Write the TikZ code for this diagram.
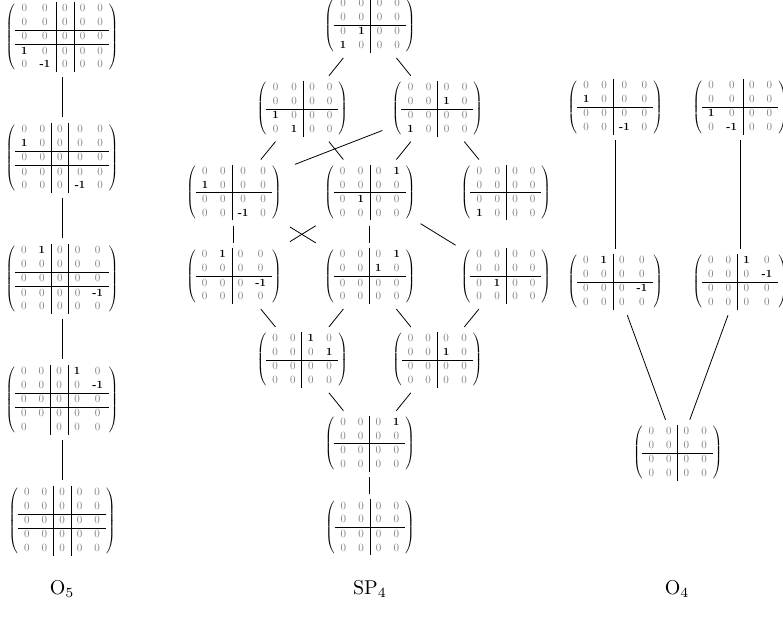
\documentclass[tikz,border=0pt]{standalone}
\usepackage{color}
\usepackage{graphicx}
\usepackage{tikz}
\usetikzlibrary{positioning}

\setlength{\arraycolsep}{5.5pt}
\renewcommand{\arraystretch}{1.05}
\newcommand{\zz}{\textcolor{gray}{0}}
\newcommand{\pone}{\mathbf{1}}
\newcommand{\mone}{\textbf{-1}}
\newcommand{\zrow}{\zz&\zz&\zz&\zz}
\newcommand{\zrowV}{\zz&\zz&\zz&\zz&\zz}
\newcommand{\matF}[4]{\scalebox{0.55}{$\left(\begin{array}{cc|cc}#1\\#2\\\hline#3\\#4\end{array}\right)$}}
\newcommand{\matV}[5]{\scalebox{0.55}{$\left(\begin{array}{cc|c|cc}#1\\#2\\\hline#3\\\hline#4\\#5\end{array}\right)$}}

\begin{document}
\begin{tikzpicture}[
                    on grid,
                    node distance=1.471cm,
                    mat/.style={
                        inner sep=1.5pt
                    },
                    lbl/.style={
                        font=\normalsize
                    },
                    link/.style={
                        shorten >=1pt,
                        shorten <=1pt
                    },
                    cross/.style={
                        shorten >=3pt,
                        shorten <=3pt
                    }
                ]
                    \useasboundingbox (0,0) rectangle (13.76,-10.843);

                    % O5
                    \node[mat] (o5a) at (1.09,-0.65) {\matV{\zrowV}{\zrowV}{\zrowV}{\pone&\zz&\zz&\zz&\zz}{\zz&\mone&\zz&\zz&\zz}};
                    \node[mat] (o5b) [below=2.126cm of o5a] {\matV{\zrowV}{\pone&\zz&\zz&\zz&\zz}{\zrowV}{\zrowV}{\zz&\zz&\zz&\mone&\zz}};
                    \node[mat] (o5c) [below=2.126cm of o5b] {\matV{\zz&\pone&\zz&\zz&\zz}{\zrowV}{\zrowV}{\zz&\zz&\zz&\zz&\mone}{\zrowV}};
                    \node[mat] (o5d) [below=2.126cm of o5c] {\matV{\zz&\zz&\zz&\pone&\zz}{\zz&\zz&\zz&\zz&\mone}{\zrowV}{\zrowV}{\zz&&\zz&\zz&\zz}};
                    \node[mat] (o5e) [below=2.126cm of o5d] {\matV{\zrowV}{\zrowV}{\zrowV}{\zrowV}{\zrowV}};

                    % SP4
                    \node[mat] (s0) at (6.50,-0.44) {\matF{\zrow}{\zrow}{\zz&\pone&\zz&\zz}{\pone&\zz&\zz&\zz}};
                    \node[mat] (s1a) [below left=1.471cm and 1.186cm of s0] {\matF{\zrow}{\zrow}{\pone&\zz&\zz&\zz}{\zz&\pone&\zz&\zz}};
                    \node[mat] (s1b) [below right=1.471cm and 1.186cm of s0] {\matF{\zrow}{\zz&\zz&\pone&\zz}{\zrow}{\pone&\zz&\zz&\zz}};
                    \node[mat] (s2b) [below=2.942cm of s0] {\matF{\zz&\zz&\zz&\pone}{\zrow}{\zz&\pone&\zz&\zz}{\zrow}};
                    \node[mat] (s2a) [left=2.39cm of s2b] {\matF{\zrow}{\pone&\zz&\zz&\zz}{\zrow}{\zz&\zz&\mone&\zz}};
                    \node[mat] (s2c) [right=2.39cm of s2b] {\matF{\zrow}{\zrow}{\zrow}{\pone&\zz&\zz&\zz}};
                    \node[mat] (s3a) [below of=s2a] {\matF{\zz&\pone&\zz&\zz}{\zrow}{\zz&\zz&\zz&\mone}{\zrow}};
                    \node[mat] (s3b) [below of=s2b] {\matF{\zz&\zz&\zz&\pone}{\zz&\zz&\pone&\zz}{\zrow}{\zrow}};
                    \node[mat] (s3c) [below of=s2c] {\matF{\zrow}{\zrow}{\zz&\pone&\zz&\zz}{\zrow}};
                    \node[mat] (s4a) [below left=1.471cm and 1.186cm of s3b] {\matF{\zz&\zz&\pone&\zz}{\zz&\zz&\zz&\pone}{\zrow}{\zrow}};
                    \node[mat] (s4b) [below right=1.471cm and 1.186cm of s3b] {\matF{\zrow}{\zz&\zz&\pone&\zz}{\zrow}{\zrow}};
                    \node[mat] (s5) [below right=1.471cm and 1.186cm of s4a] {\matF{\zz&\zz&\zz&\pone}{\zrow}{\zrow}{\zrow}};
                    \node[mat] (s6) [below of=s5] {\matF{\zrow}{\zrow}{\zrow}{\zrow}};

                    % O4
                    \node[mat] (q1) at (10.81,-1.88) {\matF{\zrow}{\pone&\zz&\zz&\zz}{\zrow}{\zz&\zz&\mone&\zz}};
                    \node[mat] (q2) [right=2.197cm of q1] {\matF{\zrow}{\zrow}{\pone&\zz&\zz&\zz}{\zz&\mone&\zz&\zz}};
                    \node[mat] (q3) [below=3.075cm of q1] {\matF{\zz&\pone&\zz&\zz}{\zrow}{\zz&\zz&\zz&\mone}{\zrow}};
                    \node[mat] (q4) [below=3.075cm of q2] {\matF{\zz&\zz&\pone&\zz}{\zz&\zz&\zz&\mone}{\zrow}{\zrow}};
                    \node[mat] (q5) [below right=3.005cm and 1.099cm of q3] {\matF{\zrow}{\zrow}{\zrow}{\zrow}};

                    % Labels
                    \node[lbl] (t1) at (1.09,-10.35) {O$_5$};
                    \node[lbl] (t2) at (6.50,-10.35) {SP$_4$};
                    \node[lbl] (t3) at (11.90,-10.35) {O$_4$};

                    % Edges
                    \draw[link] (o5a) -- (o5b);
                    \draw[link] (o5b) -- (o5c);
                    \draw[link] (o5c) -- (o5d);
                    \draw[link] (o5d) -- (o5e);

                    \draw[link] (s0) -- (s1a);
                    \draw[link] (s0) -- (s1b);
                    \draw[link] (s1a) -- (s2a);
                    \draw[link] (s1a) -- (s2b);
                    \draw[link] ([xshift=-2pt,yshift=-10.5pt]s1b.west) -- ([xshift=4pt,yshift=-2pt]s2a.north east);
                    \draw[link] (s1b) -- (s2b);
                    \draw[link] (s1b) -- (s2c);
                    \draw[link] (s2a) -- (s3a);
                    \draw[cross] (s2a) -- (s3b);
                    \draw[cross] (s2b) -- (s3a);
                    \draw[link] (s2b) -- (s3b);
                    \draw[link] (s2b) -- (s3c);
                    \draw[link] (s3a) -- (s4a);
                    \draw[link] (s3b) -- (s4a);
                    \draw[link] (s3b) -- (s4b);
                    \draw[link] (s3c) -- (s4b);
                    \draw[link] (s4a) -- (s5);
                    \draw[link] (s4b) -- (s5);
                    \draw[link] (s5) -- (s6);

                    \draw[link] (q1) -- (q3);
                    \draw[link] (q2) -- (q4);
                    \draw[link] (q3) -- (q5);
                    \draw[link] (q4) -- (q5);
                \end{tikzpicture}
\end{document}
